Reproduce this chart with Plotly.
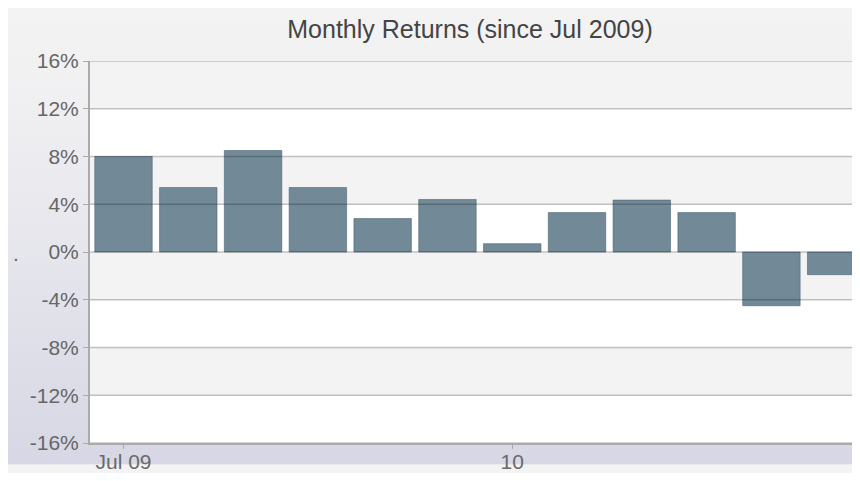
import base64
import plotly.graph_objects as go

# ---- data ----
months = ["2009-07", "2009-08", "2009-09", "2009-10", "2009-11", "2009-12",
          "2010-01", "2010-02", "2010-03", "2010-04", "2010-05", "2010-06"]
returns = [8.0, 5.4, 8.5, 5.4, 2.8, 4.4, 0.7, 3.3, 4.35, 3.3, -4.5, -1.9]
y_ticks = [-16, -12, -8, -4, 0, 4, 8, 12, 16]
y_tick_text = [f"{t}%" for t in y_ticks]
x_tick_vals = [months[0], months[6]]
x_tick_text = ["Jul 09", "10"]
title_text = "Monthly Returns (since Jul 2009)"

FONT = "Liberation Sans, Arial, Helvetica, sans-serif"
W, H = 844, 465          # fits the 860x481 window with the page's 8px body margin
ML, MR, MT, MB = 82, 0, 53, 22
PW, PH = W - ML - MR, H - MT - MB
UNIT_PX = 64.79          # width of one month slot
X0 = -0.517

def px_x(p):
    return (p - ML) / PW

def px_y(q):
    return (H - MB - q) / PH

fig = go.Figure()
fig.add_trace(go.Bar(
    x=months, y=returns,
    marker=dict(color="#728a98", line=dict(color="rgba(70,95,110,0.55)", width=1)),
    hoverinfo="x+y",
))

# background gradient
svg = ('<svg xmlns="http://www.w3.org/2000/svg" width="100" height="100" preserveAspectRatio="none">'
       '<defs><linearGradient id="g" x1="0" y1="0" x2="0" y2="1">'
       '<stop offset="0" stop-color="rgb(243,243,243)"/>'
       '<stop offset="0.2" stop-color="rgb(240,240,242)"/>'
       '<stop offset="1" stop-color="rgb(215,215,229)"/>'
       '</linearGradient></defs><rect width="100" height="100" fill="url(#g)"/></svg>')
src = "data:image/svg+xml;base64," + base64.b64encode(svg.encode()).decode()

shapes = []
for i in range(len(y_ticks) - 1):
    shapes.append(dict(type="rect", xref="paper", yref="y", x0=0, x1=1,
                       y0=y_ticks[i], y1=y_ticks[i + 1], layer="below",
                       line=dict(width=0),
                       fillcolor="#f3f3f3" if i % 2 == 1 else "#ffffff"))
for t in y_ticks:
    shapes.append(dict(type="line", xref="paper", yref="y", x0=0, x1=1, y0=t, y1=t,
                       layer="above", line=dict(color="rgba(0,0,0,0.22)", width=1.5)))

fig.update_layout(
    width=W, height=H,
    margin=dict(l=ML, r=MR, t=MT, b=MB),
    paper_bgcolor="#f3f3f3",
    plot_bgcolor="#ffffff",
    bargap=0.113,
    showlegend=False,
    font=dict(family=FONT, color="#666666", size=21),
    title=dict(text=title_text, xref="paper", x=px_x(462), xanchor="center",
               yref="container", y=1 - 21 / H, yanchor="middle",
               font=dict(family=FONT, size=25, color="#444444")),
    images=[dict(source=src, xref="paper", yref="paper",
                 x=px_x(0), y=px_y(0), sizex=W / PW, sizey=H / PH,
                 xanchor="left", yanchor="top", sizing="stretch", layer="below")],
    shapes=shapes,
    annotations=[dict(text=".", xref="paper", yref="paper", x=px_x(7.7), y=px_y(250),
                      xanchor="center", yanchor="middle", showarrow=False,
                      font=dict(family=FONT, size=21, color="#666666"))],
    xaxis=dict(type="category", range=[X0, X0 + PW / UNIT_PX],
               tickmode="array", tickvals=x_tick_vals, ticktext=x_tick_text,
               ticks="outside", ticklen=4, tickcolor="#aaaaaa", tickwidth=1,
               ticklabelstandoff=-5,
               showline=True, linecolor="#aaaaaa", linewidth=2,
               showgrid=False, zeroline=False,
               tickfont=dict(family=FONT, size=21, color="#6a6a6a")),
    yaxis=dict(range=[-16, 16], tickmode="array", tickvals=y_ticks, ticktext=y_tick_text,
               ticks="outside", ticklen=5, tickcolor="#aaaaaa",
               tickwidth=1, showline=True, linecolor="#aaaaaa", linewidth=2,
               showgrid=False, zeroline=False,
               tickfont=dict(family=FONT, size=21, color="#666666")),
)

fig.write_html("out.html")
